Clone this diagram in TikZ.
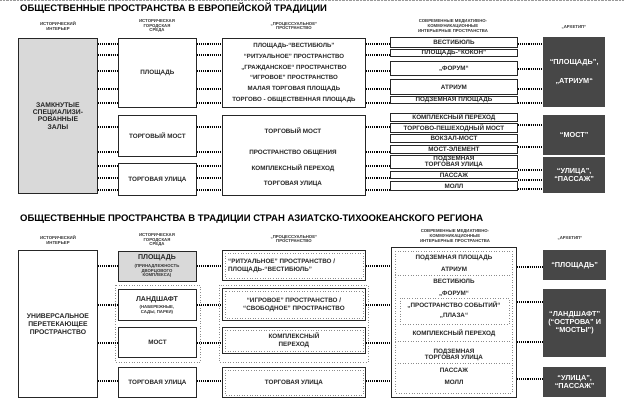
\documentclass[tikz,border=0pt]{standalone}
\usepackage{fontspec}
\setmainfont{Liberation Sans}

\begin{document}
\begin{tikzpicture}[
		x=1pt,
		y=-1pt,
		main node/.style={font=\bfseries\fontsize{6.3}{7}\selectfont, text=black!85, align=center, inner sep=0pt}
		,
		box node/.style={
			main node,
			draw=black!85,
			line width=0.9pt,
			fill=white,
			anchor=north west
		},
		dark node/.style={
			main node,
			font=\bfseries\fontsize{7.3}{8}\selectfont,
			fill=black!72,
			text=white,
			anchor=north west
		},
		head node/.style={font=\bfseries\fontsize{4.3}{4.6}\selectfont, text=black!80, align=center, inner sep=0pt},
		title node/.style={font=\bfseries\fontsize{9.5}{10}\selectfont, anchor=west, inner sep=0pt},
		link/.style={line width=1.6pt, dash pattern=on 1.1pt off 1pt},
		group line/.style={draw=black!45, dotted, line width=0.6pt}
		]
		\useasboundingbox (0,0) rectangle (624,406);
		\draw[black!40, densely dotted] (0,0.5) -- (624,0.5);

		% europe
		\node[title node] (t1) at (20,8) {ОБЩЕСТВЕННЫЕ ПРОСТРАНСТВА В ЕВРОПЕЙСКОЙ ТРАДИЦИИ};
		\node[head node] (h1) at (58,26) {ИСТОРИЧЕСКИЙ\\ИНТЕРЬЕР};
		\node[head node] (h2) at (157,26) {ИСТОРИЧЕСКАЯ\\ГОРОДСКАЯ\\СРЕДА};
		\node[head node] (h3) at (294,26) {„ПРОЦЕССУАЛЬНОЕ“\\ПРОСТРАНСТВО};
		\node[head node] (h4) at (453,26) {СОВРЕМЕННЫЕ МЕДИАТИВНО-\\КОММУНИКАЦИОННЫЕ\\ИНТЕРЬЕРНЫЕ ПРОСТРАНСТВА};
		\node[head node] (h5) at (574,27) {„АРХЕТИП“};

		\node[box node, fill=black!15, font=\bfseries\fontsize{6.8}{7.4}\selectfont, minimum width=79, minimum height=155] (int1) at (18,38) {ЗАМКНУТЫЕ\\СПЕЦИАЛИЗИ-\\РОВАННЫЕ\\ЗАЛЫ};

		\node[box node, minimum width=78, minimum height=69] (sq1) at (118,38) {ПЛОЩАДЬ};
		\node[box node, minimum width=78, minimum height=41] (br1) at (118,115) {ТОРГОВЫЙ МОСТ};
		\node[box node, minimum width=78, minimum height=32] (st1) at (118,163) {ТОРГОВАЯ УЛИЦА};

		\node[box node, font=\bfseries\fontsize{6.1}{10.8}\selectfont, minimum width=143, minimum height=69] (pr1) at (222,38) {ПЛОЩАДЬ-“ВЕСТИБЮЛЬ”\\“РИТУАЛЬНОЕ” ПРОСТРАНСТВО\\„ГРАЖДАНСКОЕ“ ПРОСТРАНСТВО\\“ИГРОВОЕ” ПРОСТРАНСТВО\\МАЛАЯ ТОРГОВАЯ ПЛОЩАДЬ\\ТОРГОВО - ОБЩЕСТВЕННАЯ ПЛОЩАДЬ};
		\node[box node, minimum width=143, minimum height=80] (pr2) at (222,115) {};
		\node[main node] (pr2a) at (293,131) {ТОРГОВЫЙ МОСТ};
		\node[main node] (pr2b) at (293,153) {ПРОСТРАНСТВО ОБЩЕНИЯ};
		\node[main node] (pr2c) at (293,168) {КОМПЛЕКСНЫЙ ПЕРЕХОД};
		\node[main node] (pr2d) at (293,184) {ТОРГОВАЯ УЛИЦА};

		\node[box node, minimum width=127, minimum height=10] (md1) at (390,37) {ВЕСТИБЮЛЬ};
		\node[box node, minimum width=127, minimum height=7] (md2) at (390,49) {ПЛОЩАДЬ-“КОКОН”};
		\node[box node, minimum width=127, minimum height=14] (md3) at (390,61) {„ФОРУМ“};
		\node[box node, minimum width=127, minimum height=15] (md4) at (390,79) {АТРИУМ};
		\node[box node, minimum width=127, minimum height=7] (md5) at (390,96) {ПОДЗЕМНАЯ ПЛОЩАДЬ};
		\node[box node, minimum width=127, minimum height=8] (md6) at (390,113) {КОМПЛЕКСНЫЙ ПЕРЕХОД};
		\node[box node, minimum width=127, minimum height=9] (md7) at (390,123) {ТОРГОВО-ПЕШЕХОДНЫЙ МОСТ};
		\node[box node, minimum width=127, minimum height=8] (md8) at (390,134) {ВОКЗАЛ-МОСТ};
		\node[box node, minimum width=127, minimum height=8] (md9) at (390,145) {МОСТ-ЭЛЕМЕНТ};
		\node[box node, font=\bfseries\fontsize{6.3}{6.5}\selectfont, minimum width=127, minimum height=13] (md10) at (390,155) {ПОДЗЕМНАЯ\\ТОРГОВАЯ УЛИЦА};
		\node[box node, minimum width=127, minimum height=7] (md11) at (390,171) {ПАССАЖ};
		\node[box node, minimum width=127, minimum height=9] (md12) at (390,181) {МОЛЛ};

		\node[dark node, font=\bfseries\fontsize{7.3}{19}\selectfont, minimum width=62, minimum height=70] (ar1) at (543,37) {“ПЛОЩАДЬ”,\\„АТРИУМ“};
		\node[dark node, minimum width=62, minimum height=40] (ar2) at (543,115) {“МОСТ”};
		\node[dark node, minimum width=62, minimum height=36] (ar3) at (543,157) {“УЛИЦА”,\\“ПАССАЖ”};

		\foreach \y in {44,55,71,89,103,127,152,166,178,190} {
			\coordinate (r) at (0,\y);
			\draw[link] (int1.east |- r) -- (sq1.west |- r);
			\draw[link] (sq1.east |- r) -- (pr1.west |- r);
			\draw[link] (pr1.east |- r) -- (md1.west |- r);
		}
		\foreach \y in {44,69,89,103,125,147,170,180,189} {
			\coordinate (r) at (0,\y);
			\draw[link] (md1.east |- r) -- (ar1.west |- r);
		}

		% asia-pacific
		\node[title node] (t2) at (20,219) {ОБЩЕСТВЕННЫЕ ПРОСТРАНСТВА В ТРАДИЦИИ СТРАН АЗИАТСКО-ТИХООКЕАНСКОГО РЕГИОНА};
		\node[head node] (h6) at (58,240) {ИСТОРИЧЕСКИЙ\\ИНТЕРЬЕР};
		\node[head node] (h7) at (157,240) {ИСТОРИЧЕСКАЯ\\ГОРОДСКАЯ\\СРЕДА};
		\node[head node] (h8) at (294,239) {„ПРОЦЕССУАЛЬНОЕ“\\ПРОСТРАНСТВО};
		\node[head node] (h9) at (455,236) {СОВРЕМЕННЫЕ МЕДИАТИВНО-\\КОММУНИКАЦИОННЫЕ\\ИНТЕРЬЕРНЫЕ ПРОСТРАНСТВА};
		\node[head node] (h10) at (570,238) {„АРХЕТИП“};

		\draw[group line] (115,285) rectangle (200,362);
		\draw[group line] (219,285) rectangle (368,362);

		\node[box node, font=\bfseries\fontsize{6.8}{8}\selectfont, minimum width=79, minimum height=147] (int2) at (18,250) {УНИВЕРСАЛЬНОЕ\\ПЕРЕТЕКАЮЩЕЕ\\ПРОСТРАНСТВО};

		\node[box node, fill=black!15, minimum width=78, minimum height=30] (sq2) at (118,251) {};
		\node[main node, font=\bfseries\fontsize{7}{8}\selectfont] (sq2a) at (157,258) {ПЛОЩАДЬ};
		\node[head node] (sq2b) at (157,271) {(ПРИНАДЛЕЖНОСТЬ\\ДВОРЦОВОГО\\КОМПЛЕКСА)};
		\node[box node, minimum width=78, minimum height=31] (ls2) at (118,289) {};
		\node[main node, font=\bfseries\fontsize{7}{8}\selectfont] (ls2a) at (157,300) {ЛАНДШАФТ};
		\node[head node] (ls2b) at (157,310) {(НАБЕРЕЖНЫЕ,\\САДЫ, ПАРКИ)};
		\node[box node, minimum width=78, minimum height=30] (br2) at (118,327) {МОСТ};
		\node[box node, minimum width=78, minimum height=30] (st2) at (118,367) {ТОРГОВАЯ УЛИЦА};

		\node[box node, minimum width=143, minimum height=30] (pr3) at (222,250) {};
		\node[main node, anchor=west, align=left, font=\bfseries\fontsize{6.3}{8}\selectfont] (pr3a) at (228,266) {“РИТУАЛЬНОЕ” ПРОСТРАНСТВО /\\ПЛОЩАДЬ-“ВЕСТИБЮЛЬ”};
		\node[box node, font=\bfseries\fontsize{6.3}{8}\selectfont, minimum width=143, minimum height=32] (pr4) at (222,288) {“ИГРОВОЕ” ПРОСТРАНСТВО /\\“СВОБОДНОЕ” ПРОСТРАНСТВО};
		\node[box node, font=\bfseries\fontsize{6.3}{8}\selectfont, minimum width=143, minimum height=26] (pr5) at (222,327) {КОМПЛЕКСНЫЙ\\ПЕРЕХОД};
		\node[box node, minimum width=143, minimum height=30] (pr6) at (222,367) {ТОРГОВАЯ УЛИЦА};
		\foreach \n in {pr3,pr4,pr5,pr6}
			\draw[group line] ([shift={(3,3)}]\n.north west) rectangle ([shift={(-3,-3)}]\n.south east);

		\node[box node, minimum width=125, minimum height=150] (md13) at (391,247) {};
		\draw[group line] (395,251) rectangle (512,393);
		\draw[group line] (400,298) rectangle (509,324);
		\draw[group line] (395,275) -- (512,275);
		\draw[group line] (395,341) -- (512,341);
		\draw[group line] (395,363) -- (512,363);
		\node[main node] (md13a) at (454,258) {ПОДЗЕМНАЯ ПЛОЩАДЬ};
		\node[main node] (md13b) at (454,269) {АТРИУМ};
		\node[main node] (md13c) at (454,281) {ВЕСТИБЮЛЬ};
		\node[main node] (md13d) at (454,294) {„ФОРУМ“};
		\node[main node] (md13e) at (454,305) {„ПРОСТРАНСТВО СОБЫТИЙ“};
		\node[main node] (md13f) at (454,316) {„ПЛАЗА“};
		\node[main node] (md13g) at (454,333) {КОМПЛЕКСНЫЙ ПЕРЕХОД};
		\node[main node, font=\bfseries\fontsize{6.3}{6.5}\selectfont] (md13h) at (454,355) {ПОДЗЕМНАЯ\\ТОРГОВАЯ УЛИЦА};
		\node[main node] (md13i) at (454,370) {ПАССАЖ};
		\node[main node] (md13j) at (454,382) {МОЛЛ};

		\node[dark node, minimum width=63, minimum height=30] (ar4) at (543,250) {“ПЛОЩАДЬ”};
		\node[dark node, minimum width=63, minimum height=68] (ar5) at (543,289) {“ЛАНДШАФТ”\\(“ОСТРОВА” И\\“МОСТЫ”)};
		\node[dark node, minimum width=63, minimum height=30] (ar6) at (543,367) {“УЛИЦА”,\\“ПАССАЖ”};

		\foreach \y in {266,305,343,381} {
			\coordinate (r) at (0,\y);
			\draw[link] (int2.east |- r) -- (sq2.west |- r);
			\draw[link] (sq2.east |- r) -- (pr3.west |- r);
			\draw[link] (pr3.east |- r) -- (md13.west |- r);
		}
		\foreach \y in {267,302,342,379} {
			\coordinate (r) at (0,\y);
			\draw[link] (md13.east |- r) -- (ar4.west |- r);
		}
	\end{tikzpicture}
\end{document}
